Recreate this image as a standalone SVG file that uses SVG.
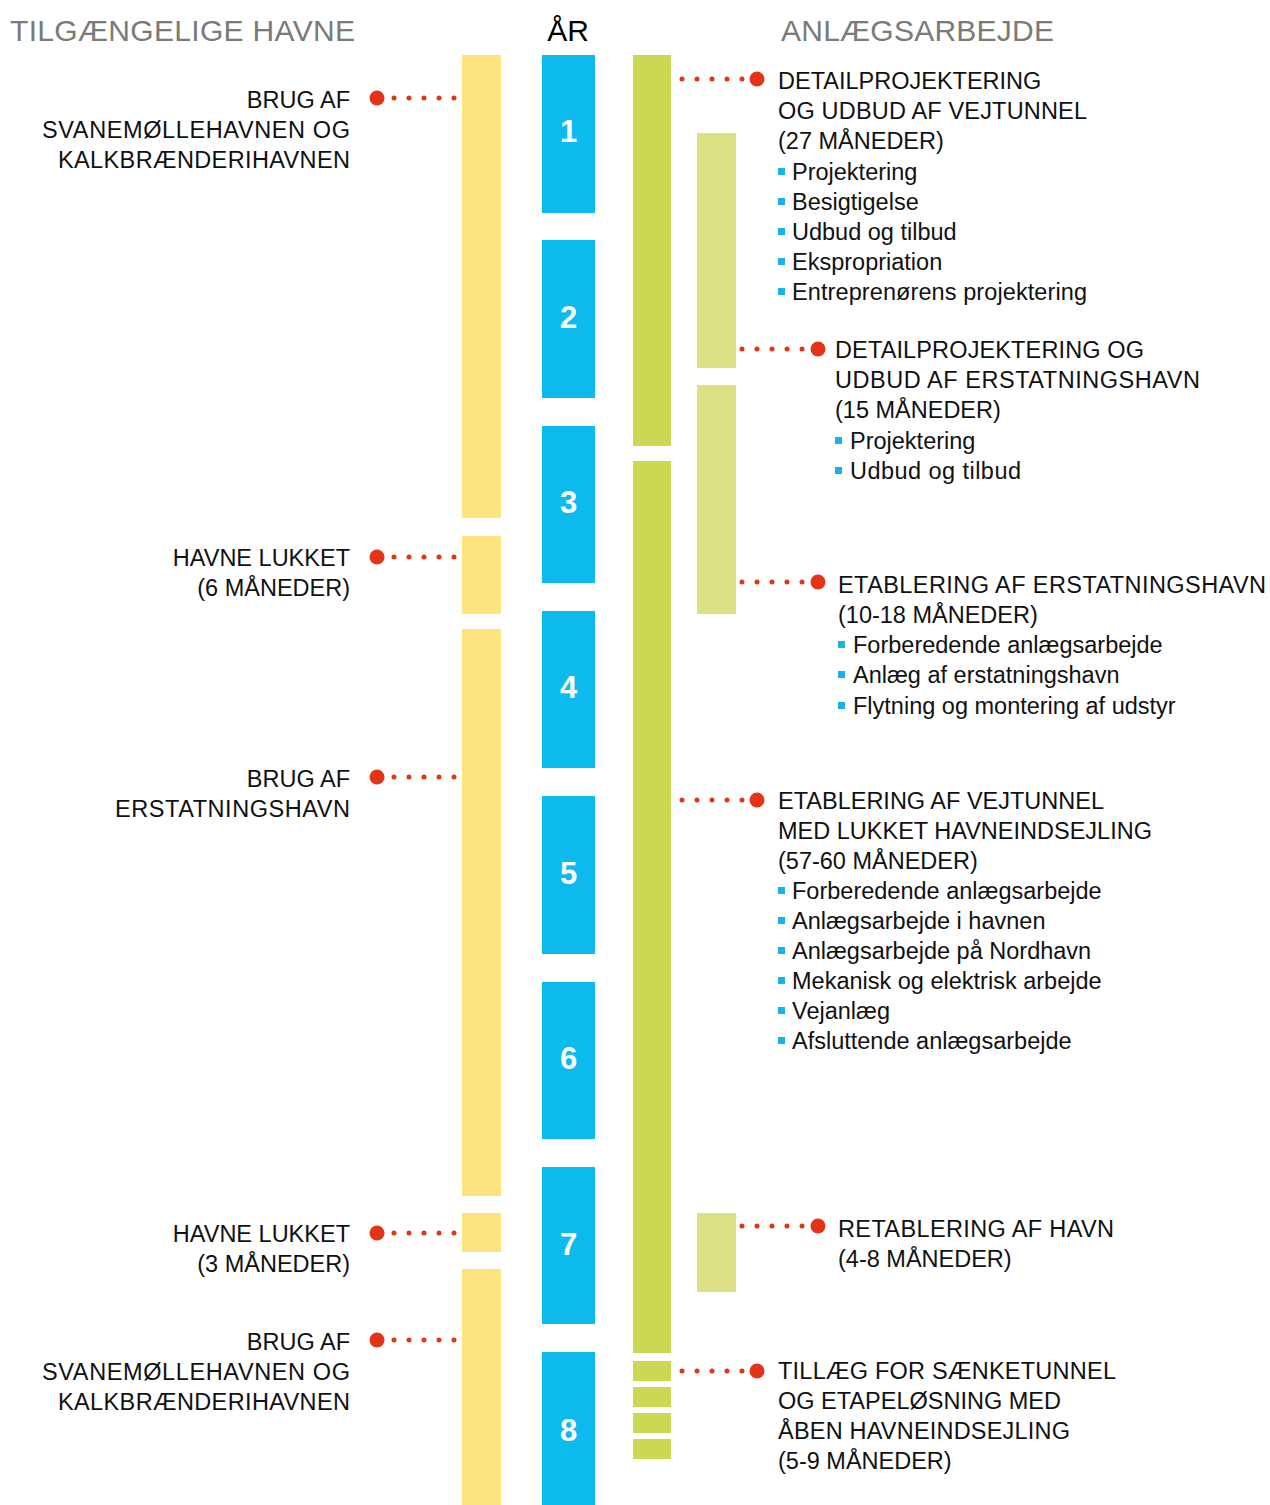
<svg xmlns="http://www.w3.org/2000/svg" width="1270" height="1505" viewBox="0 0 1270 1505">
<style>
text{font-family:"Liberation Sans",Arial,Helvetica,sans-serif;}
.hd{font-size:30px;fill:#7a7a7a;}
.t{font-size:23.5px;fill:#111;}
.r{text-anchor:end;}
.num{font-size:31px;font-weight:bold;fill:#fff;text-anchor:middle;}
.y{fill:#fde47f;}
.b{fill:#0dbaee;}
.g{fill:#cbd852;}
.lg{fill:#dce183;}
.sq{fill:#14b4e8;}
.dots{stroke:#e33417;stroke-width:5;stroke-linecap:round;stroke-dasharray:0 15;fill:none;}
.big{fill:#e33417;}
</style>
<rect width="1270" height="1505" fill="#fff"/>
<g id="headers">
<text class="hd" x="10" y="41" textLength="345" lengthAdjust="spacing">TILGÆNGELIGE HAVNE</text>
<text class="hd" x="568" y="41" text-anchor="middle" style="fill:#000">ÅR</text>
<text class="hd" x="781" y="41" textLength="273" lengthAdjust="spacing">ANLÆGSARBEJDE</text>
</g>
<g id="havne-bars">
<rect class="y" x="462" y="55" width="39" height="463"/>
<rect class="y" x="462" y="536" width="39" height="78"/>
<rect class="y" x="462" y="629" width="39" height="567"/>
<rect class="y" x="462" y="1213" width="39" height="39"/>
<rect class="y" x="462" y="1269" width="39" height="236"/>
</g>
<g id="years">
<rect class="b" x="542" y="55" width="53" height="158"/>
<rect class="b" x="542" y="240" width="53" height="158"/>
<rect class="b" x="542" y="426" width="53" height="157"/>
<rect class="b" x="542" y="611" width="53" height="157"/>
<rect class="b" x="542" y="796" width="53" height="158"/>
<rect class="b" x="542" y="982" width="53" height="157"/>
<rect class="b" x="542" y="1167" width="53" height="157"/>
<rect class="b" x="542" y="1352" width="53" height="153"/>
<text class="num" x="568.5" y="142">1</text>
<text class="num" x="568.5" y="328">2</text>
<text class="num" x="568.5" y="513">3</text>
<text class="num" x="568.5" y="698">4</text>
<text class="num" x="568.5" y="884">5</text>
<text class="num" x="568.5" y="1069">6</text>
<text class="num" x="568.5" y="1255">7</text>
<text class="num" x="568.5" y="1441">8</text>
</g>
<g id="work-bars">
<rect class="g" x="633" y="55" width="38" height="391"/>
<rect class="g" x="633" y="461" width="38" height="892"/>
<rect class="g" x="633" y="1361" width="38" height="20"/>
<rect class="g" x="633" y="1387" width="38" height="20"/>
<rect class="g" x="633" y="1413" width="38" height="20"/>
<rect class="g" x="633" y="1439" width="38" height="20"/>
<rect class="lg" x="697" y="133" width="39" height="235"/>
<rect class="lg" x="697" y="385" width="39" height="229"/>
<rect class="lg" x="697" y="1213" width="39" height="79"/>
</g>
<g id="connectors">
<path class="dots" d="M394 98H455M394 557H455M394 777H455M394 1233H455M394 1340H455"/>
<path class="dots" d="M682 79H743M682 800H743M682 1371H743M742 349H803M742 582H803M742 1226H803"/>
<circle class="big" cx="377" cy="98" r="7.5"/>
<circle class="big" cx="377" cy="557" r="7.5"/>
<circle class="big" cx="377" cy="777" r="7.5"/>
<circle class="big" cx="377" cy="1233" r="7.5"/>
<circle class="big" cx="377" cy="1340" r="7.5"/>
<circle class="big" cx="757" cy="79" r="7.5"/>
<circle class="big" cx="757" cy="800" r="7.5"/>
<circle class="big" cx="757" cy="1371" r="7.5"/>
<circle class="big" cx="818" cy="349" r="7.5"/>
<circle class="big" cx="818" cy="582" r="7.5"/>
<circle class="big" cx="818" cy="1226" r="7.5"/>
</g>
<g id="left-1">
<text class="t r" x="350" y="108">BRUG AF</text>
<text class="t r" x="350" y="138" textLength="308" lengthAdjust="spacing">SVANEMØLLEHAVNEN OG</text>
<text class="t r" x="350" y="168" textLength="292" lengthAdjust="spacing">KALKBRÆNDERIHAVNEN</text>
</g>
<g id="left-2">
<text class="t r" x="350" y="566">HAVNE LUKKET</text>
<text class="t r" x="350" y="596">(6 MÅNEDER)</text>
</g>
<g id="left-3">
<text class="t r" x="350" y="787">BRUG AF</text>
<text class="t r" x="350" y="817" textLength="235" lengthAdjust="spacing">ERSTATNINGSHAVN</text>
</g>
<g id="left-4">
<text class="t r" x="350" y="1242">HAVNE LUKKET</text>
<text class="t r" x="350" y="1272">(3 MÅNEDER)</text>
</g>
<g id="left-5">
<text class="t r" x="350" y="1350">BRUG AF</text>
<text class="t r" x="350" y="1380" textLength="308" lengthAdjust="spacing">SVANEMØLLEHAVNEN OG</text>
<text class="t r" x="350" y="1410" textLength="292" lengthAdjust="spacing">KALKBRÆNDERIHAVNEN</text>
</g>
<g id="right-a">
<text class="t" x="778" y="89">DETAILPROJEKTERING</text>
<text class="t" x="778" y="119" textLength="309" lengthAdjust="spacing">OG UDBUD AF VEJTUNNEL</text>
<text class="t" x="778" y="149">(27 MÅNEDER)</text>
<rect class="sq" x="778" y="168" width="7" height="7"/><text class="t" x="792" y="180">Projektering</text>
<rect class="sq" x="778" y="198" width="7" height="7"/><text class="t" x="792" y="210">Besigtigelse</text>
<rect class="sq" x="778" y="228" width="7" height="7"/><text class="t" x="792" y="240">Udbud og tilbud</text>
<rect class="sq" x="778" y="258" width="7" height="7"/><text class="t" x="792" y="270">Ekspropriation</text>
<rect class="sq" x="778" y="288" width="7" height="7"/><text class="t" x="792" y="300" textLength="295" lengthAdjust="spacing">Entreprenørens projektering</text>
</g>
<g id="right-b">
<text class="t" x="835" y="358" textLength="309" lengthAdjust="spacing">DETAILPROJEKTERING OG</text>
<text class="t" x="835" y="388" textLength="365" lengthAdjust="spacing">UDBUD AF ERSTATNINGSHAVN</text>
<text class="t" x="835" y="418">(15 MÅNEDER)</text>
<rect class="sq" x="835" y="437" width="7" height="7"/><text class="t" x="850" y="449">Projektering</text>
<rect class="sq" x="835" y="467" width="7" height="7"/><text class="t" x="850" y="479" textLength="171" lengthAdjust="spacing">Udbud og tilbud</text>
</g>
<g id="right-c">
<text class="t" x="838" y="593" textLength="428" lengthAdjust="spacing">ETABLERING AF ERSTATNINGSHAVN</text>
<text class="t" x="838" y="623">(10-18 MÅNEDER)</text>
<rect class="sq" x="838" y="641" width="7" height="7"/><text class="t" x="853" y="653">Forberedende anlægsarbejde</text>
<rect class="sq" x="838" y="671" width="7" height="7"/><text class="t" x="853" y="683">Anlæg af erstatningshavn</text>
<rect class="sq" x="838" y="702" width="7" height="7"/><text class="t" x="853" y="714">Flytning og montering af udstyr</text>
</g>
<g id="right-d">
<text class="t" x="778" y="809">ETABLERING AF VEJTUNNEL</text>
<text class="t" x="778" y="839">MED LUKKET HAVNEINDSEJLING</text>
<text class="t" x="778" y="869">(57-60 MÅNEDER)</text>
<rect class="sq" x="778" y="887" width="7" height="7"/><text class="t" x="792" y="899">Forberedende anlægsarbejde</text>
<rect class="sq" x="778" y="917" width="7" height="7"/><text class="t" x="792" y="929">Anlægsarbejde i havnen</text>
<rect class="sq" x="778" y="947" width="7" height="7"/><text class="t" x="792" y="959">Anlægsarbejde på Nordhavn</text>
<rect class="sq" x="778" y="977" width="7" height="7"/><text class="t" x="792" y="989">Mekanisk og elektrisk arbejde</text>
<rect class="sq" x="778" y="1007" width="7" height="7"/><text class="t" x="792" y="1019">Vejanlæg</text>
<rect class="sq" x="778" y="1037" width="7" height="7"/><text class="t" x="792" y="1049">Afsluttende anlægsarbejde</text>
</g>
<g id="right-e">
<text class="t" x="838" y="1237" textLength="276" lengthAdjust="spacing">RETABLERING AF HAVN</text>
<text class="t" x="838" y="1267">(4-8 MÅNEDER)</text>
</g>
<g id="right-f">
<text class="t" x="778" y="1379" textLength="338" lengthAdjust="spacing">TILLÆG FOR SÆNKETUNNEL</text>
<text class="t" x="778" y="1409">OG ETAPELØSNING MED</text>
<text class="t" x="778" y="1439" textLength="292" lengthAdjust="spacing">ÅBEN HAVNEINDSEJLING</text>
<text class="t" x="778" y="1469">(5-9 MÅNEDER)</text>
</g>
</svg>
